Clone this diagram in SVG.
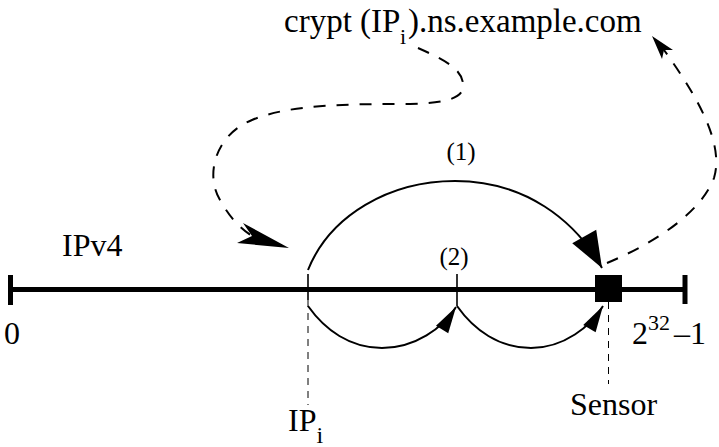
<svg xmlns="http://www.w3.org/2000/svg" width="719" height="447" viewBox="0 0 719 447" font-family="'Liberation Serif', 'Times New Roman', serif">
<style>
text{font-family:'Liberation Serif','Times New Roman',serif;fill:#000}
.big{font-size:32px}
.axis{stroke:#000;stroke-width:5;fill:none}
.tick{stroke:#000;stroke-width:1.6;fill:none}
.guide{stroke:#000;stroke-width:1;stroke-dasharray:7 6;fill:none}
.arc{stroke:#000;stroke-width:2;fill:none}
.dash{stroke:#000;stroke-width:2;fill:none;stroke-dasharray:12 11}
.head{fill:#000;stroke:none}
</style>
<defs>
<marker id="bigArrow" markerUnits="userSpaceOnUse" markerWidth="40" markerHeight="30" viewBox="-30 -12 32 24" refX="0" refY="0" orient="auto">
<path d="M0,0 L-29,-11 L-29,11 Z" class="head"/>
</marker>
<marker id="smArrow" markerUnits="userSpaceOnUse" markerWidth="30" markerHeight="20" viewBox="-23 -7 25 14" refX="0" refY="0" orient="auto">
<path d="M0,0 L-22,-6 L-22,6 Z" class="head"/>
</marker>
</defs>

<g id="axis">
<line class="axis" x1="10" y1="289.5" x2="685" y2="289.5"/>
<line class="axis" x1="10.5" y1="275" x2="10.5" y2="305"/>
<line class="axis" x1="685" y1="275" x2="685" y2="304"/>
<line class="tick" x1="308" y1="274" x2="308" y2="300"/>
<line class="tick" x1="457" y1="274" x2="457" y2="306"/>
<text class="big" x="62" y="256">IPv4</text>
<text class="big" x="4" y="344">0</text>
<text class="big" x="632" y="344">2<tspan style="font-size:22px" y="330">32</tspan><tspan x="674" y="344">–1</tspan></text>
</g>

<g id="ipi">
<line class="guide" x1="308" y1="300" x2="308" y2="405"/>
<text class="big" x="288" y="431">IP<tspan style="font-size:24px" y="443">i</tspan></text>
</g>

<g id="sensor">
<rect x="595" y="275" width="27" height="27" fill="#000"/>
<line class="guide" x1="608.5" y1="302" x2="608.5" y2="384"/>
<text class="big" x="570" y="415">Sensor</text>
</g>

<g id="dns">
<text x="284" y="32" style="font-size:33px">crypt (IP<tspan style="font-size:22px" x="400" y="44">i</tspan><tspan x="408" y="32">).ns.example.com</tspan></text>
</g>

<g id="labels">
<text x="461" y="160" text-anchor="middle" style="font-size:25px">(1)</text>
<text x="454" y="265" text-anchor="middle" style="font-size:25px">(2)</text>
</g>

<g id="connectors">
<path class="arc" d="M308,270 C330,215 390,181 455,181 C525,181 575,220 602,268" marker-end="url(#bigArrow)"/>
<path class="arc" d="M308,306 C325,330 350,348 382,348 C415,348 443,328 456,307" marker-end="url(#smArrow)"/>
<path class="arc" d="M457,306 C474,330 499,348 531,348 C564,348 591,326 603,306" marker-end="url(#smArrow)"/>
<path class="dash" d="M418,48 C445,60 465,70 463,88 C461,100 440,103 410,104 C350,104 290,104 252,120 C215,135 205,175 220,200 C230,218 240,228 252,236"/>
<polygon class="head" points="289,248 243,223 252,236 237,243"/>
<path class="dash" d="M607,263 C650,245 700,215 714,178 C724,145 700,100 664,50"/>
<polygon class="head" points="652,36 673,50 664,50 662,59"/>
</g>
</svg>
